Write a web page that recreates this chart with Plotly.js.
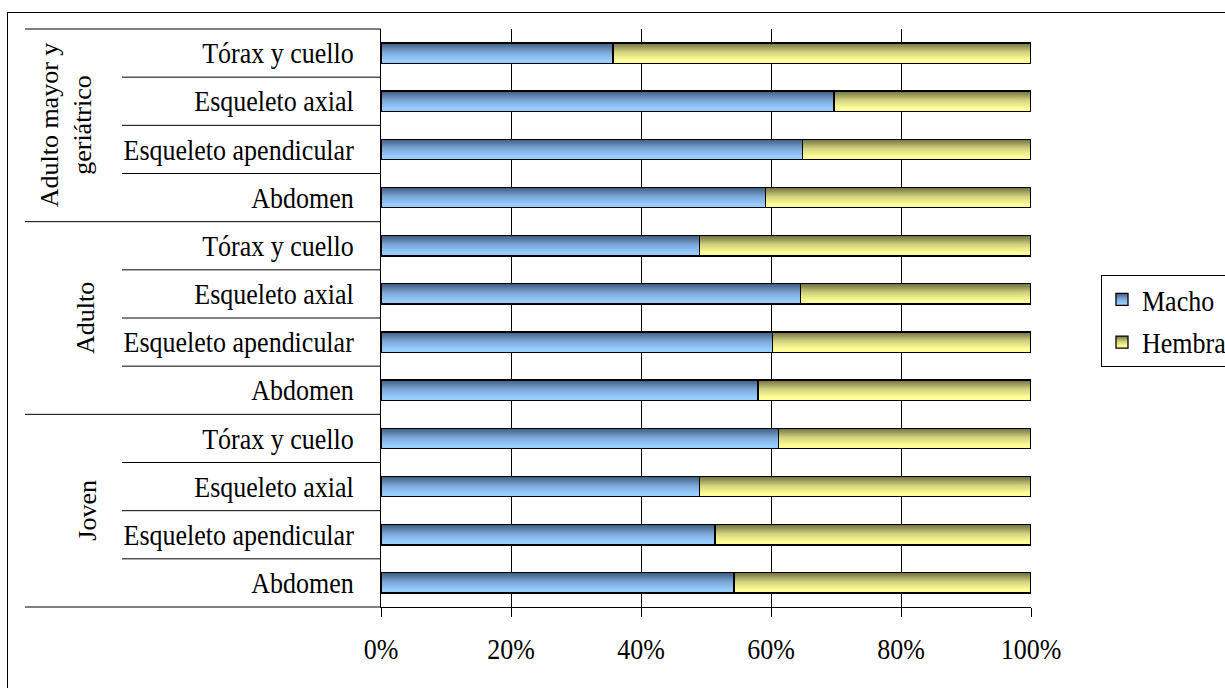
<!DOCTYPE html>
<html>
<head>
<meta charset="utf-8">
<script src="https://cdn.plot.ly/plotly-3.0.1.min.js"></script>
<style>
  html, body { margin: 0; padding: 0; background: #fff; overflow: hidden; }
  #frame { position: absolute; left: 7px; top: 12px; width: 1400px; height: 900px;
           border: 1px solid #000; box-sizing: border-box; pointer-events: none; }
  #chart { position: absolute; left: 0; top: 0; width: 1225px; height: 688px; }
</style>
</head>
<body>
<div id="frame"></div>
<div id="chart"></div>
<script>
// Age groups (top to bottom) and body regions within each group
const groups = ["Adulto mayor y<br>geriátrico", "Adulto", "Joven"];
const regions = ["Tórax y cuello", "Esqueleto axial", "Esqueleto apendicular", "Abdomen"];

// Share of cases by sex (%), per region, in the order of `regions`
const machoAdultoMayor  = [35.7, 69.7, 64.8, 59.1];
const hembraAdultoMayor = [64.3, 30.3, 35.2, 40.9];
const machoAdulto  = [49.0, 64.5, 60.2, 58.0];
const hembraAdulto = [51.0, 35.5, 39.8, 42.0];
const machoJoven  = [61.2, 49.0, 51.4, 54.3];
const hembraJoven = [38.8, 51.0, 48.6, 45.7];

const xTicks = [0, 20, 40, 60, 80, 100];

const macho  = [...machoAdultoMayor, ...machoAdulto, ...machoJoven];
const hembra = [...hembraAdultoMayor, ...hembraAdulto, ...hembraJoven];
const rowLabels = [...regions, ...regions, ...regions];
const rowPos = rowLabels.map((_, i) => i);

const FONT = "Liberation Serif";

const traces = [
  { type: "bar", orientation: "h", name: "Macho", legendgroup: "m", x: macho, y: rowPos, width: 0.42,
    marker: { color: "#99ccff", line: { color: "#000", width: 1.3 } }, hoverinfo: "x+name" },
  { type: "bar", orientation: "h", name: "Hembra", legendgroup: "h", x: hembra, y: rowPos, width: 0.42,
    marker: { color: "#ffff99", line: { color: "#000", width: 1.3 } }, hoverinfo: "x+name" }
];

// Horizontal divider lines in the label column
const shapes = [];
const pxToPaper = px => (px - 381) / 650;
const innerX0 = pxToPaper(122), outerX0 = pxToPaper(25);
const perGroup = regions.length;
for (let g = 0; g < groups.length; g++) {
  for (let r = 1; r < perGroup; r++) {
    const yb = g * perGroup + r - 0.5;
    shapes.push({ type: "line", xref: "paper", yref: "y", x0: innerX0, x1: 0, y0: yb, y1: yb,
                  line: { color: "#000", width: 1 } });
  }
  if (g > 0) {
    const yb = g * perGroup - 0.5;
    shapes.push({ type: "line", xref: "paper", yref: "y", x0: outerX0, x1: 0, y0: yb, y1: yb,
                  line: { color: "#000", width: 1 } });
  }
}
[0, 1].forEach(yp => shapes.push({ type: "line", xref: "paper", yref: "paper", x0: outerX0, x1: 0,
                                   y0: yp, y1: yp, line: { color: "#000", width: 1 } }));

// Rotated group titles
const groupX = [pxToPaper(66), pxToPaper(85), pxToPaper(88)];
const annotations = groups.map((g, i) => ({
  text: g, xref: "paper", yref: "y", x: groupX[i], y: i * perGroup + (perGroup - 1) / 2,
  textangle: -90, showarrow: false, xanchor: "center", yanchor: "middle",
  font: { family: FONT, size: 26, color: "#000" }
}));

const layout = {
  width: 1225, height: 688,
  margin: { l: 381, r: 194, t: 29, b: 81, pad: 0, autoexpand: false },
  paper_bgcolor: "rgba(0,0,0,0)", plot_bgcolor: "#fff",
  barmode: "stack", bargap: 0.58,
  font: { family: FONT, size: 26, color: "#000" },
  xaxis: {
    range: [0, 100], tickvals: xTicks, ticktext: xTicks.map(v => v + "%"),
    ticks: "outside", ticklen: 9, tickcolor: "#000", tickwidth: 1,
    showgrid: true, gridcolor: "#000", gridwidth: 1,
    showline: true, linecolor: "#000", linewidth: 1, zeroline: false, automargin: false,
    ticklabelstandoff: 10, tickfont: { family: FONT, size: 26, color: "#000" }, fixedrange: true
  },
  yaxis: {
    range: [11.5, -0.5], tickvals: rowPos, ticktext: rowLabels,
    ticks: "", showgrid: false, zeroline: false, automargin: false,
    showline: true, linecolor: "#000", linewidth: 1,
    ticklabelstandoff: 21, tickfont: { family: FONT, size: 26, color: "#000" }, fixedrange: true
  },
  legend: {
    x: pxToPaper(1101), y: (607 - 275) / 578, xanchor: "left", yanchor: "top",
    traceorder: "grouped", bordercolor: "#000", borderwidth: 1, bgcolor: "#fff",
    font: { family: FONT, size: 26, color: "#000" }, tracegroupgap: 6
  },
  shapes: shapes, annotations: annotations, showlegend: true
};

// Vertical shading on bar fills: darker at the top edge, fading to the base colour
function applyGradients(gd) {
  const svg = gd.querySelector(".main-svg");
  const ns = "http://www.w3.org/2000/svg";
  let defs = svg.querySelector("defs");
  if (!defs) { defs = document.createElementNS(ns, "defs"); svg.insertBefore(defs, svg.firstChild); }
  const specs = [
    { id: "fillMacho",  stops: [[0, "#3d5c7e"], [0.45, "#7aa7d8"], [0.85, "#99ccff"], [1, "#99ccff"]] },
    { id: "fillHembra", stops: [[0, "#6f6f3e"], [0.45, "#d2d27f"], [0.85, "#ffff99"], [1, "#ffff99"]] }
  ];
  specs.forEach(s => {
    const lg = document.createElementNS(ns, "linearGradient");
    lg.setAttribute("id", s.id);
    lg.setAttribute("x1", "0"); lg.setAttribute("y1", "0");
    lg.setAttribute("x2", "0"); lg.setAttribute("y2", "1");
    s.stops.forEach(([o, c]) => {
      const st = document.createElementNS(ns, "stop");
      st.setAttribute("offset", o); st.setAttribute("stop-color", c);
      lg.appendChild(st);
    });
    defs.appendChild(lg);
  });
  const ids = specs.map(s => s.id);
  gd.querySelectorAll(".barlayer .trace").forEach((t, i) => {
    t.querySelectorAll("path").forEach(p => { p.style.fill = "url(#" + ids[i] + ")"; });
  });
  gd.querySelectorAll(".legend .traces").forEach((t, i) => {
    t.querySelectorAll(".legendpoints path").forEach(p => { p.style.fill = "url(#" + ids[i] + ")"; });
  });
  return gd;
}

// Slightly taller lettering for the horizontal labels, stretched about each label's own centre
function stretchLabels(gd) {
  const s = 1.12;
  gd.querySelectorAll(".xtick text, .ytick text, .legendtext").forEach(t => {
    try {
      const b = t.getBBox();
      const cy = b.y + b.height / 2;
      const prev = t.getAttribute("transform") || "";
      t.setAttribute("transform",
        (prev + " translate(0," + cy + ") scale(1," + s + ") translate(0," + (-cy) + ")").trim());
    } catch (e) { /* leave label as drawn */ }
  });
  return gd;
}

Plotly.newPlot("chart", traces, layout, { displayModeBar: false, staticPlot: true })
  .then(applyGradients)
  .then(stretchLabels);
</script>
</body>
</html>
